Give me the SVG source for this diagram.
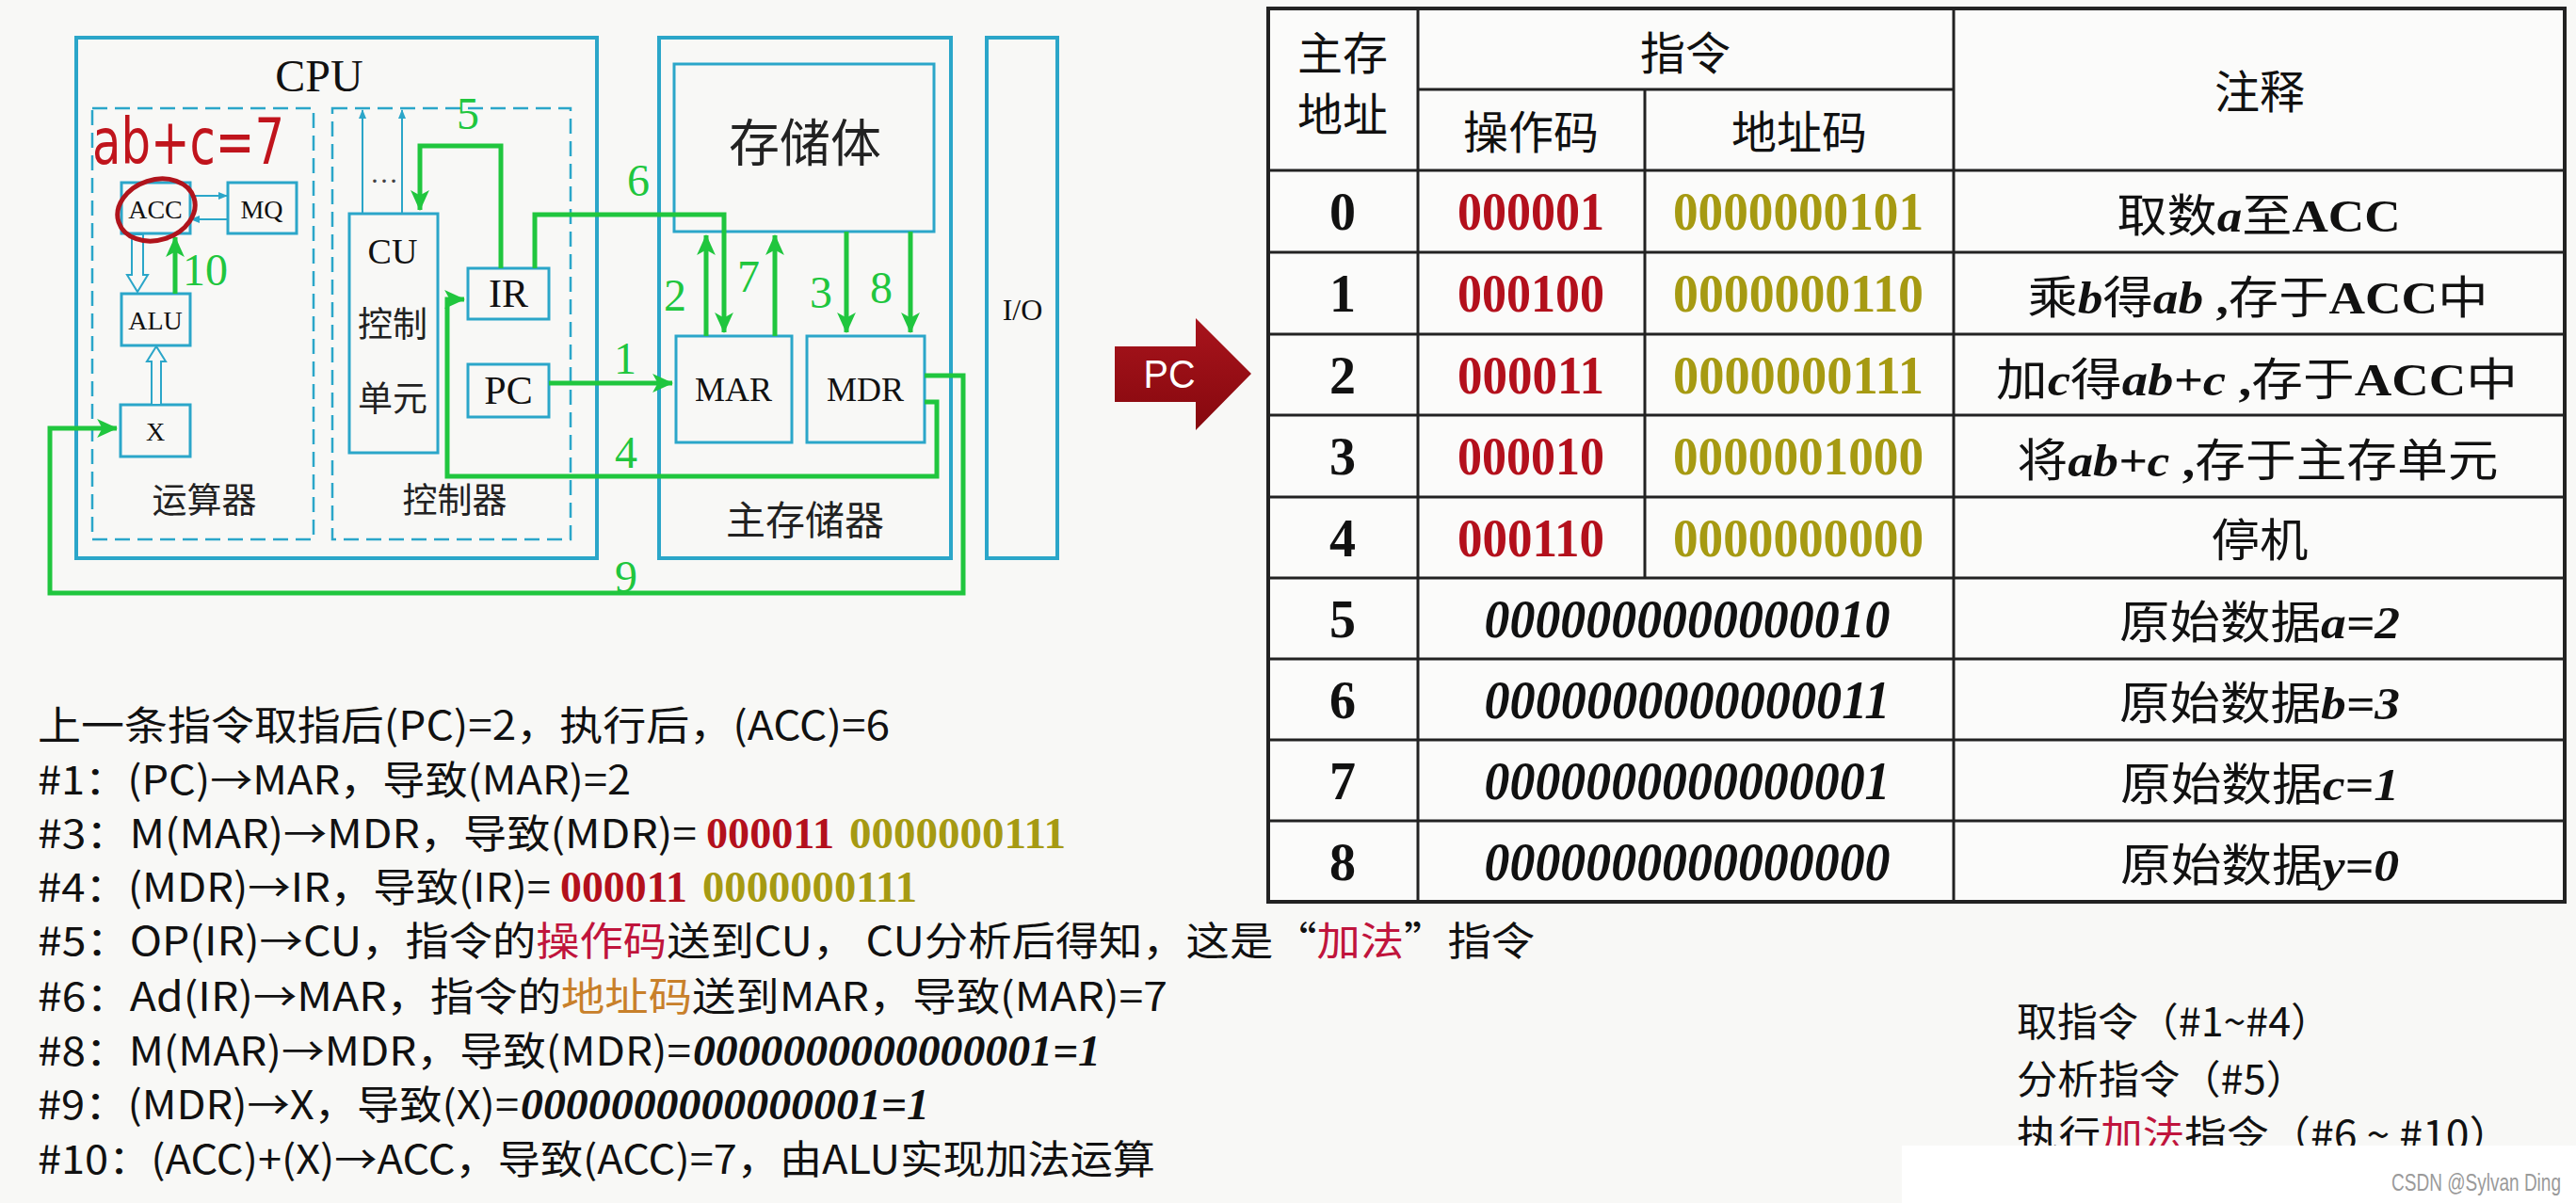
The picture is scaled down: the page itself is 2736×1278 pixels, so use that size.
<svg xmlns="http://www.w3.org/2000/svg" width="2736" height="1278" viewBox="0 0 2736 1278">
<defs>
<style>
.bx{fill:none;stroke:#2ba6c9;stroke-width:3}
.bo{fill:none;stroke:#2ba6c9;stroke-width:4}
.dash{fill:none;stroke:#2ba6c9;stroke-width:2.5;stroke-dasharray:16 8}
.thin{fill:none;stroke:#2ba6c9;stroke-width:2}
.hol{fill:#f8f8f6;stroke:#2ba6c9;stroke-width:2}
.g{fill:none;stroke:#20c63e;stroke-width:5}
.gl{fill:#20c63e;font-family:"Liberation Serif",serif;font-size:48px;text-anchor:middle}
.lb{fill:#111;font-family:"Liberation Serif",serif;text-anchor:middle}
.cn{fill:#222;font-family:"Noto Sans CJK SC",sans-serif;text-anchor:middle}
.tl{fill:none;stroke:#222;stroke-width:3}
.to{fill:none;stroke:#222;stroke-width:4}
.td{fill:#111;font-family:"Liberation Serif",serif;font-weight:bold;font-size:56px;text-anchor:middle}
.ti{fill:#111;font-family:"Liberation Serif",serif;font-weight:bold;font-style:italic;font-size:56px;text-anchor:middle}
.th{fill:#111;font-family:"Noto Sans CJK SC",sans-serif;font-size:48px;text-anchor:middle}
.op{fill:#b3101c}
.ad{fill:#a69a12}
.bi{font-family:"Liberation Serif",serif;font-weight:bold;font-style:italic}
.b{font-family:"Liberation Serif",serif;font-weight:bold}
.tx{fill:#111;font-family:"Noto Sans CJK SC",sans-serif;font-size:42px}
.nd{font-family:"Liberation Serif",serif;font-weight:bold;font-size:46px}
.ndi{font-family:"Liberation Serif",serif;font-weight:bold;font-style:italic;font-size:46px;fill:#111}
.cr{fill:#c0143c}
.or{fill:#c8802a}
</style>
<marker id="ga" viewBox="0 0 20 20" refX="19" refY="10" markerWidth="22" markerHeight="22" markerUnits="userSpaceOnUse" orient="auto">
<path d="M0,1 L20,10 L0,19 L5,10 z" fill="#20c63e"/>
</marker>
<marker id="ta" viewBox="0 0 10 10" refX="9" refY="5" markerWidth="10" markerHeight="10" markerUnits="userSpaceOnUse" orient="auto">
<path d="M0,1 L10,5 L0,9 z" fill="#2ba6c9"/>
</marker>
<linearGradient id="pcg" x1="0" y1="0" x2="0" y2="1">
<stop offset="0" stop-color="#a8141c"/>
<stop offset="1" stop-color="#86080e"/>
</linearGradient>
</defs>
<rect width="2736" height="1278" fill="#f8f8f6"/>

<g id="cpu">
<rect class="bo" x="81" y="40" width="553" height="553"/>
<text class="lb" x="339" y="97" font-size="48">CPU</text>
</g>
<g id="alu-unit">
<rect class="dash" x="98" y="115" width="235" height="458"/>
<text class="cn" x="217" y="545" font-size="37">运算器</text>
</g>
<g id="acc">
<rect class="bx" x="129" y="194" width="73" height="54"/>
<text class="lb" x="165" y="232" font-size="28">ACC</text>
</g>
<g id="mq">
<rect class="bx" x="242" y="194" width="73" height="54"/>
<text class="lb" x="278" y="232" font-size="28">MQ</text>
</g>
<g id="alu">
<rect class="bx" x="129" y="312" width="73" height="55"/>
<text class="lb" x="165" y="350" font-size="28">ALU</text>
</g>
<g id="x">
<rect class="bx" x="128" y="430" width="74" height="55"/>
<text class="lb" x="165" y="468" font-size="28">X</text>
</g>
<g id="controller">
<rect class="dash" x="353" y="115" width="253" height="458"/>
<text class="cn" x="483" y="545" font-size="37">控制器</text>
</g>
<g id="cu">
<rect class="bx" x="371" y="227" width="94" height="254"/>
<text class="lb" x="417" y="280" font-size="38">CU</text>
<text class="cn" x="417" y="358" font-size="37">控制</text>
<text class="cn" x="417" y="437" font-size="37">单元</text>
<text x="408" y="194" fill="#444" font-family="Liberation Serif,serif" font-size="30" text-anchor="middle">…</text>
</g>
<g id="ir">
<rect class="bx" x="497" y="285" width="86" height="54"/>
<text class="lb" x="540" y="326" font-size="42">IR</text>
</g>
<g id="pc">
<rect class="bx" x="497" y="387" width="86" height="56"/>
<text class="lb" x="540" y="429" font-size="42">PC</text>
</g>
<g id="main-memory">
<rect class="bo" x="700" y="40" width="310" height="553"/>
<text class="cn" x="855" y="568" font-size="42">主存储器</text>
</g>
<g id="storage">
<rect class="bx" x="716" y="68" width="276" height="178"/>
<text class="cn" x="855" y="172" font-size="54">存储体</text>
</g>
<g id="mar">
<rect class="bx" x="718" y="357" width="123" height="113"/>
<text class="lb" x="779" y="426" font-size="36">MAR</text>
</g>
<g id="mdr">
<rect class="bx" x="857" y="357" width="125" height="113"/>
<text class="lb" x="919" y="426" font-size="36">MDR</text>
</g>
<g id="io">
<rect class="bo" x="1048" y="40" width="75" height="553"/>
<text class="lb" x="1086" y="340" font-size="32">I/O</text>
</g>

<g id="connectors">
<line class="thin" x1="202" y1="208" x2="241" y2="208" marker-end="url(#ta)"/>
<line class="thin" x1="242" y1="233" x2="203" y2="233" marker-end="url(#ta)"/>
<line class="thin" x1="385" y1="227" x2="385" y2="117" marker-end="url(#ta)"/>
<line class="thin" x1="427" y1="227" x2="427" y2="117" marker-end="url(#ta)"/>
<polygon class="hol" points="140,249 140,292 135,292 146,310 157,292 152,292 152,249"/>
<polygon class="hol" points="161,430 161,384 156,384 166,368 176,384 171,384 171,430"/>
<path class="g" d="M583,407 H714" marker-end="url(#ga)"/>
<path class="g" d="M750,357 V250" marker-end="url(#ga)"/>
<path class="g" d="M899,246 V353" marker-end="url(#ga)"/>
<path class="g" d="M982,427 H995 V506 H475 V318 H493" marker-end="url(#ga)"/>
<path class="g" d="M532,285 V155 H446 V223" marker-end="url(#ga)"/>
<path class="g" d="M568,285 V228 H769 V353" marker-end="url(#ga)"/>
<path class="g" d="M823,357 V250" marker-end="url(#ga)"/>
<path class="g" d="M967,246 V353" marker-end="url(#ga)"/>
<path class="g" d="M982,399 H1023 V630 H53 V455 H124" marker-end="url(#ga)"/>
<path class="g" d="M186,312 V252" marker-end="url(#ga)"/>
<text class="gl" x="497" y="137">5</text>
<text class="gl" x="678" y="208">6</text>
<text class="gl" x="717" y="330">2</text>
<text class="gl" x="795" y="310">7</text>
<text class="gl" x="872" y="327">3</text>
<text class="gl" x="936" y="322">8</text>
<text class="gl" x="664" y="397">1</text>
<text class="gl" x="665" y="497">4</text>
<text class="gl" x="665" y="629">9</text>
<text class="gl" x="218" y="303" font-size="52">10</text>
</g>

<g id="handwriting">
<ellipse cx="166" cy="223" rx="42" ry="32" transform="rotate(-18 166 223)" fill="none" stroke="#b0141c" stroke-width="5"/>
<text x="98" y="174" fill="#c0141c" font-family="DejaVu Sans,sans-serif" font-size="68" textLength="204" lengthAdjust="spacingAndGlyphs">ab+c=7</text>
</g>

<g id="pc-pointer">
<polygon points="1184,368 1270,368 1270,338 1329,397 1270,457 1270,427 1184,427" fill="url(#pcg)"/>
<text x="1242" y="412" fill="#fff" font-family="Liberation Sans,sans-serif" font-size="42" text-anchor="middle" textLength="55" lengthAdjust="spacingAndGlyphs">PC</text>
</g>

<g id="table">
<rect x="1347" y="9" width="1377" height="949" fill="#fbfbfa"/>
<rect class="to" x="1347" y="9" width="1377" height="949"/>
<line class="tl" x1="1506" y1="9" x2="1506" y2="958"/>
<line class="tl" x1="2075" y1="9" x2="2075" y2="958"/>
<line class="tl" x1="1747" y1="95" x2="1747" y2="614"/>
<line class="tl" x1="1506" y1="95" x2="2075" y2="95"/>
<line class="tl" x1="1347" y1="181" x2="2724" y2="181"/>
<line class="tl" x1="1347" y1="268" x2="2724" y2="268"/>
<line class="tl" x1="1347" y1="355" x2="2724" y2="355"/>
<line class="tl" x1="1347" y1="441" x2="2724" y2="441"/>
<line class="tl" x1="1347" y1="528" x2="2724" y2="528"/>
<line class="tl" x1="1347" y1="614" x2="2724" y2="614"/>
<line class="tl" x1="1347" y1="700" x2="2724" y2="700"/>
<line class="tl" x1="1347" y1="786" x2="2724" y2="786"/>
<line class="tl" x1="1347" y1="872" x2="2724" y2="872"/>
<text class="th" x="1426" y="74" font-size="44">主存</text>
<text class="th" x="1426" y="139" font-size="44">地址</text>
<text class="th" x="1790" y="74">指令</text>
<text class="th" x="1626" y="158">操作码</text>
<text class="th" x="1911" y="158">地址码</text>
<text class="th" x="2400" y="115">注释</text>

<text class="td" x="1426" y="244">0</text>
<text class="td" x="1426" y="331">1</text>
<text class="td" x="1426" y="418">2</text>
<text class="td" x="1426" y="504">3</text>
<text class="td" x="1426" y="591">4</text>
<text class="td" x="1426" y="677">5</text>
<text class="td" x="1426" y="763">6</text>
<text class="td" x="1426" y="849">7</text>
<text class="td" x="1426" y="935">8</text>

<text class="td op" x="1626" y="244" textLength="156" lengthAdjust="spacingAndGlyphs">000001</text>
<text class="td op" x="1626" y="331" textLength="156" lengthAdjust="spacingAndGlyphs">000100</text>
<text class="td op" x="1626" y="418" textLength="156" lengthAdjust="spacingAndGlyphs">000011</text>
<text class="td op" x="1626" y="504" textLength="156" lengthAdjust="spacingAndGlyphs">000010</text>
<text class="td op" x="1626" y="591" textLength="156" lengthAdjust="spacingAndGlyphs">000110</text>
<text class="td ad" x="1910" y="244" textLength="266" lengthAdjust="spacingAndGlyphs">0000000101</text>
<text class="td ad" x="1910" y="331" textLength="266" lengthAdjust="spacingAndGlyphs">0000000110</text>
<text class="td ad" x="1910" y="418" textLength="266" lengthAdjust="spacingAndGlyphs">0000000111</text>
<text class="td ad" x="1910" y="504" textLength="266" lengthAdjust="spacingAndGlyphs">0000001000</text>
<text class="td ad" x="1910" y="591" textLength="266" lengthAdjust="spacingAndGlyphs">0000000000</text>
<text class="ti" x="1792" y="677" textLength="431" lengthAdjust="spacingAndGlyphs">0000000000000010</text>
<text class="ti" x="1792" y="763" textLength="431" lengthAdjust="spacingAndGlyphs">0000000000000011</text>
<text class="ti" x="1792" y="849" textLength="431" lengthAdjust="spacingAndGlyphs">0000000000000001</text>
<text class="ti" x="1792" y="935" textLength="431" lengthAdjust="spacingAndGlyphs">0000000000000000</text>

<text class="th" x="2399" y="246" textLength="301" lengthAdjust="spacingAndGlyphs">取数<tspan class="bi">a</tspan>至<tspan class="b">ACC</tspan></text>
<text class="th" x="2398" y="333" textLength="489" lengthAdjust="spacingAndGlyphs">乘<tspan class="bi">b</tspan>得<tspan class="bi">ab</tspan><tspan class="b"> ,</tspan>存于<tspan class="b">ACC</tspan>中</text>
<text class="th" x="2397" y="420" textLength="554" lengthAdjust="spacingAndGlyphs">加<tspan class="bi">c</tspan>得<tspan class="bi">ab+c</tspan><tspan class="b">  ,</tspan>存于<tspan class="b">ACC</tspan>中</text>
<text class="th" x="2398" y="506" textLength="511" lengthAdjust="spacingAndGlyphs">将<tspan class="bi">ab+c</tspan><tspan class="b"> ,</tspan>存于主存单元</text>
<text class="th" x="2400" y="591" textLength="103" lengthAdjust="spacingAndGlyphs">停机</text>
<text class="th" x="2400" y="678" textLength="298" lengthAdjust="spacingAndGlyphs">原始数据<tspan class="bi">a=2</tspan></text>
<text class="th" x="2400" y="764" textLength="298" lengthAdjust="spacingAndGlyphs">原始数据<tspan class="bi">b=3</tspan></text>
<text class="th" x="2400" y="850" textLength="296" lengthAdjust="spacingAndGlyphs">原始数据<tspan class="bi">c=1</tspan></text>
<text class="th" x="2400" y="936" textLength="296" lengthAdjust="spacingAndGlyphs">原始数据<tspan class="bi">y=0</tspan></text>
</g>

<g id="steps">
<text class="tx" x="40" y="786" textLength="905" lengthAdjust="spacingAndGlyphs">上一条指令取指后(PC)=2，执行后，(ACC)=6</text>
<text class="tx" x="40" y="844" textLength="630" lengthAdjust="spacingAndGlyphs">#1：(PC)→MAR，导致(MAR)=2</text>
<text class="tx" x="40" y="901" textLength="700" lengthAdjust="spacingAndGlyphs">#3：M(MAR)→MDR，导致(MDR)=</text>
<text class="nd op" x="750" y="901" textLength="136" lengthAdjust="spacingAndGlyphs">000011</text>
<text class="nd ad" x="902" y="901" textLength="230" lengthAdjust="spacingAndGlyphs">0000000111</text>
<text class="tx" x="40" y="958" textLength="545" lengthAdjust="spacingAndGlyphs">#4：(MDR)→IR，导致(IR)=</text>
<text class="nd op" x="595" y="958" textLength="135" lengthAdjust="spacingAndGlyphs">000011</text>
<text class="nd ad" x="746" y="958" textLength="228" lengthAdjust="spacingAndGlyphs">0000000111</text>
<text class="tx" x="40" y="1015" textLength="1590" lengthAdjust="spacingAndGlyphs">#5：OP(IR)→CU，指令的<tspan class="cr">操作码</tspan>送到CU， CU分析后得知，这是“<tspan class="cr">加法</tspan>”指令</text>
<text class="tx" x="40" y="1074" textLength="1200" lengthAdjust="spacingAndGlyphs">#6：Ad(IR)→MAR，指令的<tspan class="or">地址码</tspan>送到MAR，导致(MAR)=7</text>
<text class="tx" x="40" y="1132" textLength="694" lengthAdjust="spacingAndGlyphs">#8：M(MAR)→MDR，导致(MDR)=</text>
<text class="ndi" x="736" y="1132" textLength="433" lengthAdjust="spacingAndGlyphs">0000000000000001=1</text>
<text class="tx" x="40" y="1189" textLength="511" lengthAdjust="spacingAndGlyphs">#9：(MDR)→X，导致(X)=</text>
<text class="ndi" x="553" y="1189" textLength="434" lengthAdjust="spacingAndGlyphs">0000000000000001=1</text>
<text class="tx" x="40" y="1247" textLength="1187" lengthAdjust="spacingAndGlyphs">#10：(ACC)+(X)→ACC，导致(ACC)=7，由ALU实现加法运算</text>
</g>

<g id="phases">
<text class="tx" x="2142" y="1101" textLength="334" lengthAdjust="spacingAndGlyphs">取指令（#1~#4）</text>
<text class="tx" x="2142" y="1162" textLength="308" lengthAdjust="spacingAndGlyphs">分析指令（#5）</text>
<text class="tx" x="2142" y="1221" textLength="525" lengthAdjust="spacingAndGlyphs">执行<tspan class="cr">加法</tspan>指令（#6 ~ #10）</text>
<rect x="2020" y="1217" width="716" height="61" fill="#ffffff"/>
<text x="2540" y="1265" fill="#9a9a9a" font-family="Liberation Sans,sans-serif" font-size="25" textLength="180" lengthAdjust="spacingAndGlyphs">CSDN @Sylvan Ding</text>
</g>
</svg>
